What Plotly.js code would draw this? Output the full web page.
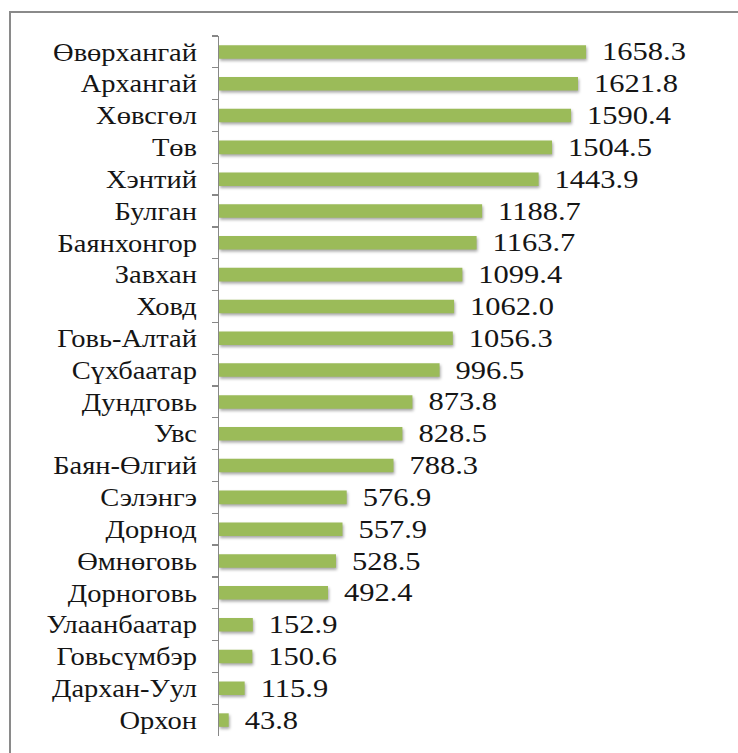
<!DOCTYPE html>
<html><head><meta charset="utf-8">
<script src="https://cdn.plot.ly/plotly-3.0.1.min.js"></script>
<style>
html,body{margin:0;padding:0;background:#fff;}
#wrap{position:relative;width:738px;height:753px;overflow:hidden;}
#chart{position:absolute;left:0;top:0;width:738px;height:753px;}
#bt{position:absolute;left:9px;top:11px;width:729px;height:2px;background:#8a8a8a;}
#bl{position:absolute;left:9px;top:11px;width:2px;height:742px;background:#8a8a8a;}
#chart .point path{filter:drop-shadow(1px 2px 1.5px rgba(0,0,0,0.35));}
</style></head>
<body><div id="wrap"><div id="chart"></div><div id="bt"></div><div id="bl"></div></div>
<script>
const provinces = ["Өвөрхангай","Архангай","Хөвсгөл","Төв","Хэнтий","Булган","Баянхонгор","Завхан","Ховд","Говь-Алтай","Сүхбаатар","Дундговь","Увс","Баян-Өлгий","Сэлэнгэ","Дорнод","Өмнөговь","Дорноговь","Улаанбаатар","Говьсүмбэр","Дархан-Уул","Орхон"];
const values = [1658.3,1621.8,1590.4,1504.5,1443.9,1188.7,1163.7,1099.4,1062.0,1056.3,996.5,873.8,828.5,788.3,576.9,557.9,528.5,492.4,152.9,150.6,115.9,43.8];

const font = {family:"Liberation Serif", size:25, color:"#151515"};
const ML = 219, MR = 38, XMAX = 2173;
const trace = {
  type:"bar", orientation:"h",
  x: values, y: provinces,
  marker:{color:"#9bbb59", line:{width:0}},
  text: values.map(v => v.toFixed(1)),
  textposition:"outside", cliponaxis:false, constraintext:"none", textangle:0,
  textfont: font,
  hoverinfo:"none"
};
const layout = {
  width:738, height:753,
  margin:{l:ML, r:MR, t:36, b:17},
  paper_bgcolor:"rgba(0,0,0,0)", plot_bgcolor:"rgba(0,0,0,0)",
  showlegend:false,
  bargap:0.575,
  font: font,
  xaxis:{range:[0,XMAX], visible:false, fixedrange:true},
  yaxis:{autorange:"reversed", type:"category", showline:true, linecolor:"#878787", linewidth:1.3,
         ticks:"outside", ticklen:6, tickcolor:"#878787", tickwidth:1.3, tickson:"boundaries",
         showgrid:false, zeroline:false, tickfont:font, ticklabelstandoff:16}
};
function stretchAndPlace(el, sx, edge, target){
  const w = el.getComputedTextLength();
  el.setAttribute("textLength", (w*sx).toFixed(2));
  el.setAttribute("lengthAdjust", "spacingAndGlyphs");
  const svg = el.ownerSVGElement.getBoundingClientRect();
  const r = el.getBoundingClientRect();
  const cur = edge === "right" ? r.right - svg.left : r.left - svg.left;
  const dx = target - cur;
  el.setAttribute("transform", (el.getAttribute("transform")||"") + " translate(" + dx.toFixed(2) + ",0)");
}
Plotly.newPlot("chart", [trace], layout, {staticPlot:true, displayModeBar:false}).then(gd => {
  const xa = gd._fullLayout.xaxis;
  const labels = gd.querySelectorAll(".ytick text");
  labels.forEach(el => stretchAndPlace(el, 1.14, "right", ML - 22));
  const texts = gd.querySelectorAll(".bartext");
  texts.forEach((el, i) => stretchAndPlace(el, 1.22, "left", ML + xa.l2p(values[i]) + 16));
});
</script></body></html>
